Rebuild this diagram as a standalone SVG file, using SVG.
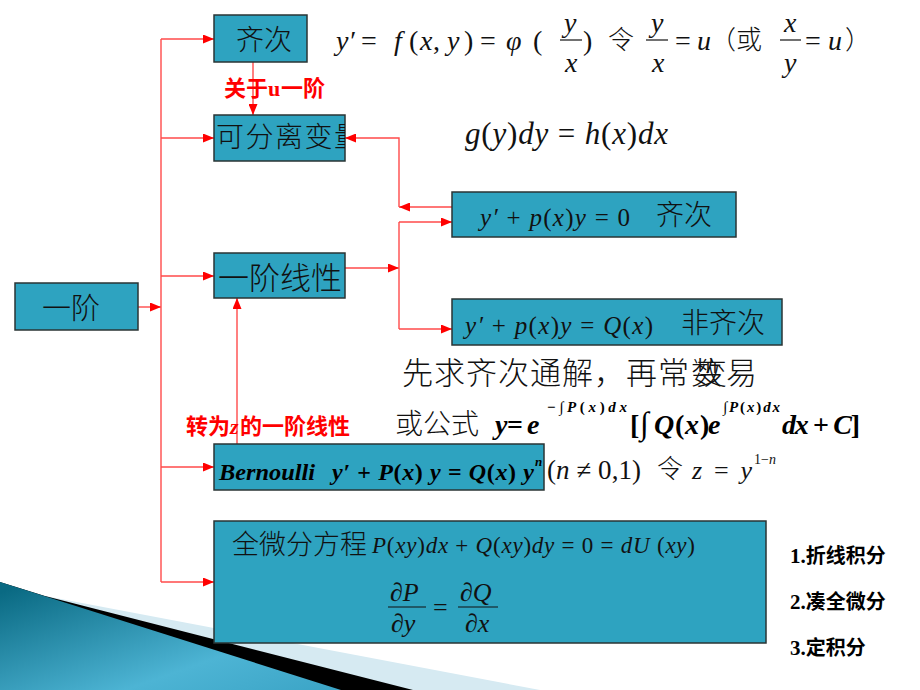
<svg xmlns="http://www.w3.org/2000/svg" width="920" height="690" viewBox="0 0 920 690">
<defs>
<style>
.box{fill:#2ea3c0;stroke:#2a3535;stroke-width:1.5}
.cn{font-family:"Noto Sans CJK SC","Noto Sans CJK JP",sans-serif;fill:#111;font-weight:300}
.m{font-family:"Liberation Serif","DejaVu Serif",serif;font-style:italic;fill:#111}
.n{font-style:normal}
.mb{font-family:"Liberation Serif","DejaVu Serif",serif;font-style:italic;font-weight:bold;fill:#000}
.conn{stroke:#ff4a4a;stroke-width:1.4;fill:none}
.lbl{font-family:"Noto Sans CJK SC",sans-serif;font-weight:bold;fill:#ff0000;font-size:22px}
.rl{font-family:"Noto Sans CJK SC",sans-serif;font-weight:bold;fill:#000;font-size:20px}
.fl{stroke:#111;stroke-width:1.2}
</style>
<marker id="ah" markerUnits="userSpaceOnUse" markerWidth="11" markerHeight="9" refX="11" refY="4.5" orient="auto">
<path d="M0,0 L11,4.5 L0,9 Z" fill="#ff0000"/>
</marker>
<linearGradient id="tg" x1="0" y1="0.1" x2="1" y2="1">
<stop offset="0" stop-color="#0a6a83"/>
<stop offset="0.65" stop-color="#4db4d4"/>
<stop offset="1" stop-color="#3ba4c6"/>
</linearGradient>
<clipPath id="c2"><rect x="214" y="115" width="131" height="46"/></clipPath>
</defs>
<rect width="920" height="690" fill="#ffffff"/>
<g id="decoration">
<path d="M45,596 L540,690 L0,690 Z" fill="#d6eaf2"/>
<path d="M0,582 L45,596 L413,690 L0,690 Z" fill="#000"/>
<path d="M0,582 L341,690 L0,690 Z" fill="url(#tg)"/>
</g>
<g id="connectors">
<path class="conn" d="M138,307 L161,307" marker-end="url(#ah)"/>
<path class="conn" d="M161,39 L161,582"/>
<path class="conn" d="M161,39 L214,39" marker-end="url(#ah)"/>
<path class="conn" d="M161,138 L214,138" marker-end="url(#ah)"/>
<path class="conn" d="M161,276 L214,276" marker-end="url(#ah)"/>
<path class="conn" d="M161,467 L214,467" marker-end="url(#ah)"/>
<path class="conn" d="M161,582 L214,582" marker-end="url(#ah)"/>
<path class="conn" d="M253,62 L253,115" marker-end="url(#ah)"/>
<path class="conn" d="M452,207 L399,207" marker-end="url(#ah)"/>
<path class="conn" d="M399,207 L399,138 L345,138" marker-end="url(#ah)"/>
<path class="conn" d="M345,268 L399,268" marker-end="url(#ah)"/>
<path class="conn" d="M399,222 L399,329"/>
<path class="conn" d="M399,222 L452,222" marker-end="url(#ah)"/>
<path class="conn" d="M399,329 L452,329" marker-end="url(#ah)"/>
<path class="conn" d="M237,444 L237,298" marker-end="url(#ah)"/>
</g>
<g id="n-yijie">
<rect class="box" x="15" y="283" width="123" height="47"/>
<text class="cn" x="42" y="319" font-size="29">一阶</text>
</g>
<g id="n-qici">
<rect class="box" x="214" y="15" width="93" height="47"/>
<text class="cn" x="236" y="50" font-size="28">齐次</text>
</g>
<g id="n-kefenli">
<rect class="box" x="214" y="115" width="131" height="46"/>
<text class="cn" x="216" y="147" font-size="28" letter-spacing="1.5" clip-path="url(#c2)">可分离变量</text>
</g>
<g id="n-xianxing">
<rect class="box" x="214" y="253" width="131" height="45"/>
<text class="cn" x="218" y="289" font-size="31">一阶线性</text>
</g>
<g id="n-homog">
<rect class="box" x="452" y="192" width="284" height="45"/>
<text class="m" x="480" y="226" font-size="25" textLength="150" lengthAdjust="spacing">y′ <tspan class="n">+</tspan> p<tspan class="n">(</tspan>x<tspan class="n">)</tspan>y <tspan class="n">= 0</tspan></text>
<text class="cn" x="656" y="225" font-size="28">齐次</text>
</g>
<g id="n-nonhomog">
<rect class="box" x="452" y="299" width="330" height="46"/>
<text class="m" x="465" y="334" font-size="25" textLength="188" lengthAdjust="spacing">y′ <tspan class="n">+</tspan> p<tspan class="n">(</tspan>x<tspan class="n">)</tspan>y <tspan class="n">=</tspan> Q<tspan class="n">(</tspan>x<tspan class="n">)</tspan></text>
<text class="cn" x="681" y="333" font-size="28">非齐次</text>
</g>
<g id="n-bernoulli">
<rect class="box" x="214" y="444" width="330" height="46"/>
<text class="mb" x="219" y="480" font-size="24" textLength="96" lengthAdjust="spacingAndGlyphs">Bernoulli</text>
<text class="mb" x="332" y="480" font-size="24" textLength="202" lengthAdjust="spacing">y′ <tspan class="n">+</tspan> P<tspan class="n">(</tspan>x<tspan class="n">)</tspan> y <tspan class="n">=</tspan> Q<tspan class="n">(</tspan>x<tspan class="n">)</tspan> y</text>
<text class="mb" x="535" y="466" font-size="13">n</text>
</g>
<g id="n-exact">
<rect class="box" x="214" y="521" width="552" height="122"/>
<text class="cn" x="232" y="554" font-size="27">全微分方程</text>
<text class="m" x="372" y="553" font-size="23" textLength="323" lengthAdjust="spacing">P<tspan class="n">(</tspan>xy<tspan class="n">)</tspan>dx <tspan class="n">+</tspan> Q<tspan class="n">(</tspan>xy<tspan class="n">)</tspan>dy <tspan class="n">= 0 =</tspan> dU <tspan class="n">(</tspan>xy<tspan class="n">)</tspan></text>
<text class="m" x="390" y="601" font-size="26">∂P</text>
<line class="fl" x1="388" y1="607" x2="426" y2="607"/>
<text class="m" x="391" y="632" font-size="26">∂y</text>
<text class="m n" x="433" y="616" font-size="26">=</text>
<text class="m" x="460" y="601" font-size="26">∂Q</text>
<line class="fl" x1="458" y1="607" x2="498" y2="607"/>
<text class="m" x="465" y="632" font-size="26">∂x</text>
</g>
<g id="formula-top">
<text class="m" y="50" font-size="28"><tspan x="336">y′</tspan><tspan class="n" x="361">=</tspan><tspan x="394">f</tspan><tspan class="n" x="409">(</tspan><tspan x="420">x</tspan><tspan class="n" x="433">,</tspan><tspan x="447">y</tspan><tspan class="n" x="464">)</tspan><tspan class="n" x="480">=</tspan><tspan x="506">φ</tspan><tspan class="n" x="533">(</tspan><tspan class="n" x="583">)</tspan></text>
<text class="m" x="564" y="32" font-size="28">y</text>
<line class="fl" x1="560" y1="40" x2="582" y2="40"/>
<text class="m" x="565" y="72" font-size="28">x</text>
<text class="cn" x="608" y="49" font-size="26">令</text>
<text class="m" x="651" y="32" font-size="28">y</text>
<line class="fl" x1="646" y1="40" x2="668" y2="40"/>
<text class="m" x="652" y="72" font-size="28">x</text>
<text class="m" y="50" font-size="28"><tspan class="n" x="675">=</tspan><tspan x="697">u</tspan></text>
<text class="cn" x="710" y="49" font-size="26">（或</text>
<text class="m" x="784" y="32" font-size="28">x</text>
<line class="fl" x1="780" y1="40" x2="801" y2="40"/>
<text class="m" x="784" y="72" font-size="28">y</text>
<text class="m" y="50" font-size="28"><tspan class="n" x="805">=</tspan><tspan x="828">u</tspan></text>
<text class="cn" x="845" y="49" font-size="26">）</text>
</g>
<g id="formula-sep">
<text class="m" x="465" y="144" font-size="31" textLength="203" lengthAdjust="spacing">g<tspan class="n">(</tspan>y<tspan class="n">)</tspan>dy <tspan class="n">=</tspan> h<tspan class="n">(</tspan>x<tspan class="n">)</tspan>dx</text>
</g>
<g id="text-variation">
<text class="cn" x="402" y="384" font-size="31" letter-spacing="1">先求齐次通解，再常</text>
<text class="cn" x="691" y="384" font-size="31">数</text>
<text class="cn" x="696" y="384" font-size="31">变</text>
<text class="cn" x="726" y="384" font-size="31">易</text>
</g>
<g id="formula-general">
<text class="cn" x="395" y="434" font-size="28">或公式</text>
<text class="mb" y="434" font-size="28"><tspan x="495">y</tspan><tspan class="n" x="507">=</tspan><tspan x="527">e</tspan></text>
<text class="mb" x="547" y="412" font-size="15" textLength="80" lengthAdjust="spacing"><tspan class="n">−∫</tspan>P<tspan class="n">(</tspan>x<tspan class="n">)</tspan>dx</text>
<text class="mb" y="434" font-size="28"><tspan class="n" x="630">[</tspan><tspan class="n" x="640" font-size="32">∫</tspan><tspan x="654">Q</tspan><tspan class="n" x="675">(</tspan><tspan x="685">x</tspan><tspan class="n" x="700">)</tspan><tspan x="708">e</tspan></text>
<text class="mb" x="723" y="412" font-size="15" textLength="57" lengthAdjust="spacing"><tspan class="n">∫</tspan>P<tspan class="n">(</tspan>x<tspan class="n">)</tspan>dx</text>
<text class="mb" x="782" y="434" font-size="28" textLength="78" lengthAdjust="spacing">dx <tspan class="n">+</tspan> C<tspan class="n">]</tspan></text>
</g>
<g id="formula-bern">
<text class="m" x="547" y="479" font-size="27" textLength="94" lengthAdjust="spacing"><tspan class="n">(</tspan>n <tspan class="n">≠ 0,1)</tspan></text>
<text class="cn" x="657" y="478" font-size="26">令</text>
<text class="m" x="692" y="479" font-size="26" textLength="60" lengthAdjust="spacing">z <tspan class="n">=</tspan> y</text>
<text class="m" x="754" y="464" font-size="14" textLength="22" lengthAdjust="spacing"><tspan class="n">1−</tspan>n</text>
</g>
<g id="labels">
<text class="lbl" y="96"><tspan x="224">关于</tspan><tspan x="268" font-family="Liberation Serif,serif">u</tspan><tspan x="281">一阶</tspan></text>
<text class="lbl" y="434"><tspan x="186">转为</tspan><tspan x="230" font-family="Liberation Serif,serif" font-style="italic">z</tspan><tspan x="240">的一阶线性</tspan></text>
</g>
<g id="methods">
<text class="rl" x="790" y="563"><tspan font-family="Liberation Serif,serif" font-size="21">1.</tspan>折线积分</text>
<text class="rl" x="790" y="609"><tspan font-family="Liberation Serif,serif" font-size="21">2.</tspan>凑全微分</text>
<text class="rl" x="790" y="655"><tspan font-family="Liberation Serif,serif" font-size="21">3.</tspan>定积分</text>
</g>
</svg>
